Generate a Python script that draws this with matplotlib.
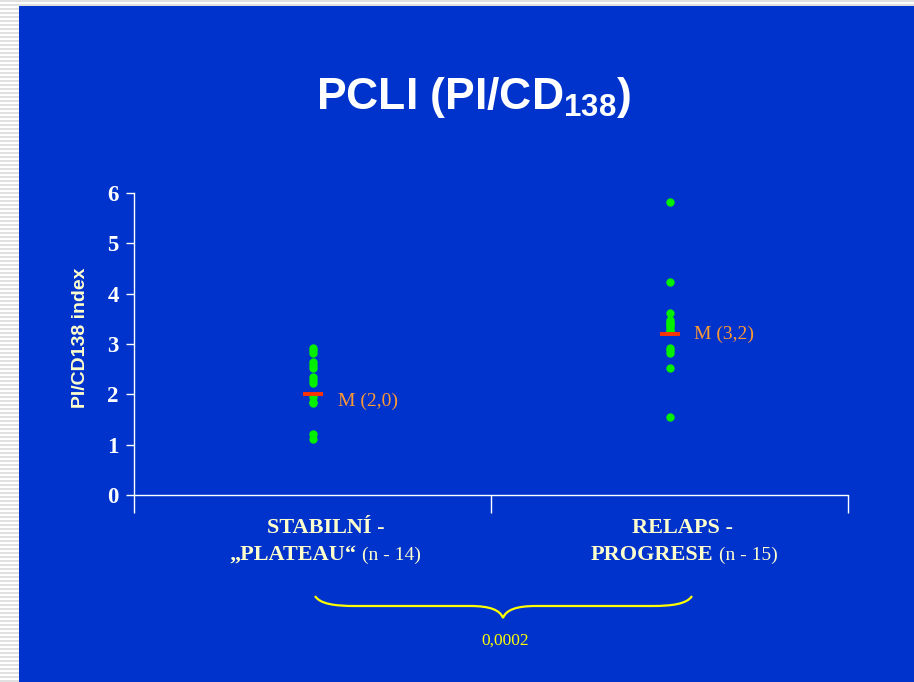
import numpy as np
import matplotlib
matplotlib.use("Agg")
import matplotlib.pyplot as plt
from matplotlib.path import Path
from matplotlib.patches import PathPatch

# ---- data ----
stabilni = [2.93, 2.88, 2.82, 2.64, 2.58, 2.52, 2.35, 2.28, 2.22, 1.95, 1.85, 1.82, 1.22, 1.12]
relaps = [5.83, 4.23, 3.62, 3.48, 3.43, 3.40, 3.38, 3.33, 3.28, 2.93, 2.88, 2.82, 2.52, 1.54, 3.25]
groups = [stabilni, relaps]
means = [2.0, 3.2]
mean_labels = ["M (2,0)", "M (3,2)"]
cat_line1 = ["STABILNÍ -", "RELAPS -"]
cat_line2_bold = ["„PLATEAU“", "PROGRESE"]
cat_line2_n = ["(n - 14)", "(n - 15)"]
yticks = [0, 1, 2, 3, 4, 5, 6]
p_value = "0,0002"
title_main = "PCLI (PI/CD"
title_sub = "138"
ylabel = "PI/CD138 index"

# ---- style ----
BLUE = "#0033CC"
GREEN = "#00F000"
RED = "#FF3300"
ORANGE = "#FF9933"
PALE = "#FFFFCC"
YELLOW = "#FFFF00"
W, H = 914, 682

plt.rcParams["mathtext.fontset"] = "custom"
plt.rcParams["mathtext.rm"] = "Liberation Sans:bold"
plt.rcParams["mathtext.bf"] = "Liberation Sans:bold"
plt.rcParams["mathtext.it"] = "Liberation Sans:bold"

fig = plt.figure(figsize=(W / 100, H / 100), dpi=100, facecolor=BLUE)

# striped slide border (left and top)
def stripes(h, w):
    arr = np.ones((h, w, 3))
    for r in range(h):
        if (r // 2) % 2 == 0:
            arr[r, :, :] = 0.88
    return arr
fig.figimage(stripes(H, 19), xo=0, yo=0, origin="upper")
fig.figimage(stripes(6, W), xo=0, yo=H - 6, origin="upper")

ax = fig.add_axes([134 / W, 1 - 495 / H, (848 - 134) / W, (495 - 193) / H])
ax.set_facecolor("none")
ax.set_xlim(0, 2)
ax.set_ylim(0, 6)
for s in ["top", "right"]:
    ax.spines[s].set_visible(False)
for s in ["left", "bottom"]:
    ax.spines[s].set_color("white")
    ax.spines[s].set_linewidth(1.0)

ax.set_xticks([0, 1, 2])
ax.set_xticklabels([])
ax.tick_params(axis="x", length=13, width=1, color="white", direction="out")
ax.set_yticks(yticks)
ax.set_yticklabels([str(t) for t in yticks])
ax.tick_params(axis="y", length=6, width=1, colors="white", labelsize=16.5, pad=5)
for lbl in ax.get_yticklabels():
    lbl.set_fontfamily("Liberation Serif")
    lbl.set_fontweight("bold")

ax.text(-0.075, 0.52, ylabel, transform=ax.transAxes, rotation=90, ha="center",
        va="center", color=PALE, fontsize=14, fontweight="bold",
        family="Liberation Sans")

centers = [0.5, 1.5]
mean_dy = [-5, 0]
for xc, vals, m, ml, dy in zip(centers, groups, means, mean_labels, mean_dy):
    ax.plot([xc] * len(vals), vals, "o", color=GREEN, ms=6, mec="none", zorder=3)
    ax.plot([xc], [m], marker="_", ms=15, mew=2.8, color=RED, zorder=4)
    ax.annotate(ml, (xc, m), xytext=(18, dy), textcoords="offset points",
                ha="left", va="center", color=ORANGE, fontsize=14,
                family="Liberation Serif")

for xc, l1, l2b, l2n in zip(centers, cat_line1, cat_line2_bold, cat_line2_n):
    ax.annotate(l1, (xc, 0), xycoords=("data", "axes fraction"), xytext=(9.5, -27.4),
                textcoords="offset points", ha="center", va="baseline", color=PALE,
                fontsize=16, fontweight="bold", family="Liberation Serif",
                annotation_clip=False)
    ax.annotate(l2b, (xc, 0), xycoords=("data", "axes fraction"), xytext=(31.6, -46.8),
                textcoords="offset points", ha="right", va="baseline", color=PALE,
                fontsize=16, fontweight="bold", family="Liberation Serif",
                annotation_clip=False)
    ax.annotate(l2n, (xc, 0), xycoords=("data", "axes fraction"), xytext=(35.5, -46.8),
                textcoords="offset points", ha="left", va="baseline", color=PALE,
                fontsize=14, family="Liberation Serif", annotation_clip=False)

# title
fig.text(473.5 / W, 1 - 109 / H, title_main + r"$_{\mathrm{" + title_sub + "}}$)",
         ha="center", va="baseline", color="white", fontsize=32, fontweight="bold",
         family="Liberation Sans")

# brace
def P(x, y):
    return (x / W, 1 - y / H)
verts = [P(315, 596), P(320, 604), P(335, 606), P(355, 606),
         P(470, 606),
         P(490, 606), P(500, 610), P(503, 618),
         P(506, 610), P(516, 606), P(536, 606),
         P(652, 606),
         P(672, 606), P(687, 604), P(692, 596)]
codes = [Path.MOVETO, Path.CURVE4, Path.CURVE4, Path.CURVE4,
         Path.LINETO,
         Path.CURVE4, Path.CURVE4, Path.CURVE4,
         Path.CURVE4, Path.CURVE4, Path.CURVE4,
         Path.LINETO,
         Path.CURVE4, Path.CURVE4, Path.CURVE4]
fig.patches.append(PathPatch(Path(verts, codes), transform=fig.transFigure,
                             facecolor="none", edgecolor=YELLOW, lw=1.6))
fig.text(505 / W, 1 - 641 / H, p_value, ha="center", va="center", color=YELLOW,
         fontsize=12.5, family="Liberation Serif")

fig.savefig("out.png", dpi=100, facecolor=BLUE)
